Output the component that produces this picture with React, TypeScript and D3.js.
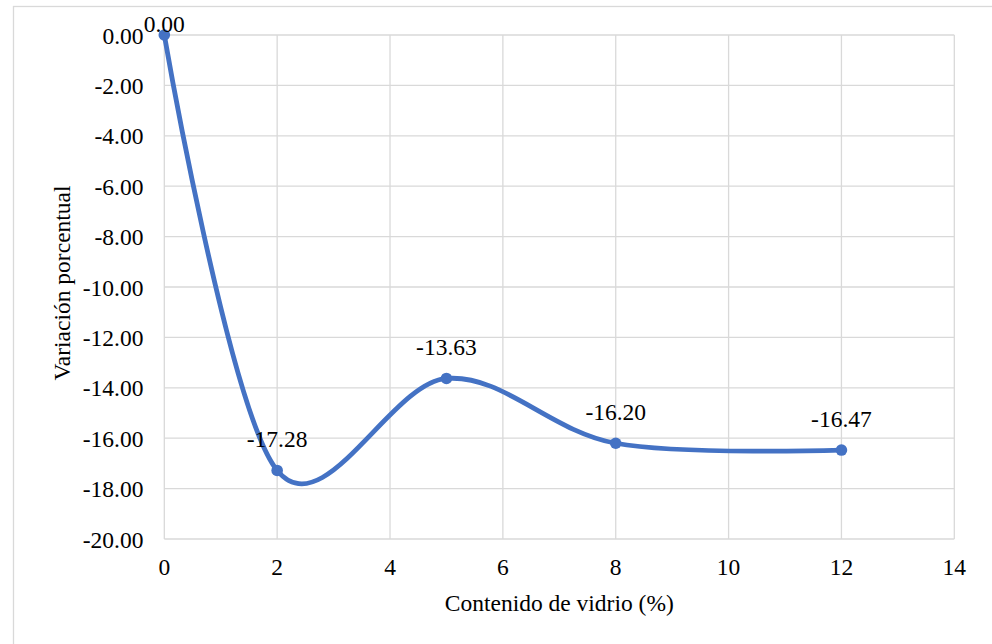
import React, { useEffect, useRef } from "react";
import * as d3 from "d3";

// Glass content (%) and the resulting percentage variation
const glassContent = [0, 2, 5, 8, 12];
const variation = [0.0, -17.28, -13.63, -16.2, -16.47];
const xTicks = [0, 2, 4, 6, 8, 10, 12, 14];
const yTicks = [0, -2, -4, -6, -8, -10, -12, -14, -16, -18, -20];

const W = 992;
const H = 644;
const plot = { left: 164.3, right: 954.3, top: 35, bottom: 539 };
const FONT = "Liberation Serif";
const FS = "23.5px";
const GRID = "#d9d9d9";
const LINE = "#4472C4";

export default function App() {
  const ref = useRef<SVGSVGElement | null>(null);

  useEffect(() => {
    const svg = d3.select(ref.current);
    svg.selectAll("*").remove();

    const x = d3.scaleLinear().domain([0, 14]).range([plot.left, plot.right]);
    const y = d3.scaleLinear().domain([-20, 0]).range([plot.bottom, plot.top]);
    const fmt = (v: number) => d3.format(".2f")(v).replace("\u2212", "-");
    const label = (sel: any) =>
      sel.attr("font-family", FONT).style("font-family", FONT).style("font-size", FS).attr("fill", "#000");

    svg.append("rect").attr("width", W).attr("height", H).attr("fill", "#fff");
    // chart frame
    svg
      .append("rect")
      .attr("x", 13.5)
      .attr("y", 6.5)
      .attr("width", W + 20)
      .attr("height", H + 20)
      .attr("fill", "none")
      .attr("stroke", GRID)
      .attr("stroke-width", 1.3);

    // gridlines
    svg
      .selectAll(".gy")
      .data(yTicks)
      .join("line")
      .attr("x1", plot.left)
      .attr("x2", plot.right)
      .attr("y1", (d) => y(d))
      .attr("y2", (d) => y(d))
      .attr("stroke", GRID)
      .attr("stroke-width", 1.3);
    svg
      .selectAll(".gx")
      .data(xTicks)
      .join("line")
      .attr("x1", (d) => x(d))
      .attr("x2", (d) => x(d))
      .attr("y1", plot.top)
      .attr("y2", plot.bottom)
      .attr("stroke", GRID)
      .attr("stroke-width", 1.3);

    // tick labels
    svg
      .selectAll(".ly")
      .data(yTicks)
      .join("text")
      .attr("x", 143.5)
      .attr("y", (d) => y(d) + 8.5)
      .attr("text-anchor", "end")
      .call(label)
      .text((d) => fmt(d === 0 ? 0 : d));
    svg
      .selectAll(".lx")
      .data(xTicks)
      .join("text")
      .attr("x", (d) => x(d))
      .attr("y", 575)
      .attr("text-anchor", "middle")
      .call(label)
      .text((d) => String(d));

    // axis titles
    svg
      .append("text")
      .attr("x", (plot.left + plot.right) / 2)
      .attr("y", 611)
      .attr("text-anchor", "middle")
      .call(label)
      .text("Contenido de vidrio (%)");
    svg
      .append("text")
      .attr("transform", "translate(70,283) rotate(-90)")
      .attr("text-anchor", "middle")
      .call(label)
      .text("Variaci\u00f3n porcentual");

    // smoothed series
    const pts: [number, number][] = glassContent.map((g, i) => [x(g), y(variation[i])]);
    svg
      .append("path")
      .attr("d", d3.line().curve(d3.curveCardinal.tension(0))(pts) || "")
      .attr("fill", "none")
      .attr("stroke", LINE)
      .attr("stroke-width", 4.8)
      .attr("stroke-linecap", "round")
      .attr("stroke-linejoin", "round");
    svg
      .selectAll(".m")
      .data(pts)
      .join("circle")
      .attr("cx", (d) => d[0])
      .attr("cy", (d) => d[1])
      .attr("r", 5.8)
      .attr("fill", LINE);

    // data labels
    svg
      .selectAll(".dl")
      .data(pts)
      .join("text")
      .attr("x", (d) => d[0])
      .attr("y", (d) => Math.max(d[1] - 23.5, 32))
      .attr("text-anchor", "middle")
      .call(label)
      .text((_, i) => fmt(variation[i]));
  }, []);

  return (
    <svg
      ref={ref}
      width={W}
      height={H}
      style={{ position: "absolute", left: 0, top: 0, background: "#fff" }}
    />
  );
}
